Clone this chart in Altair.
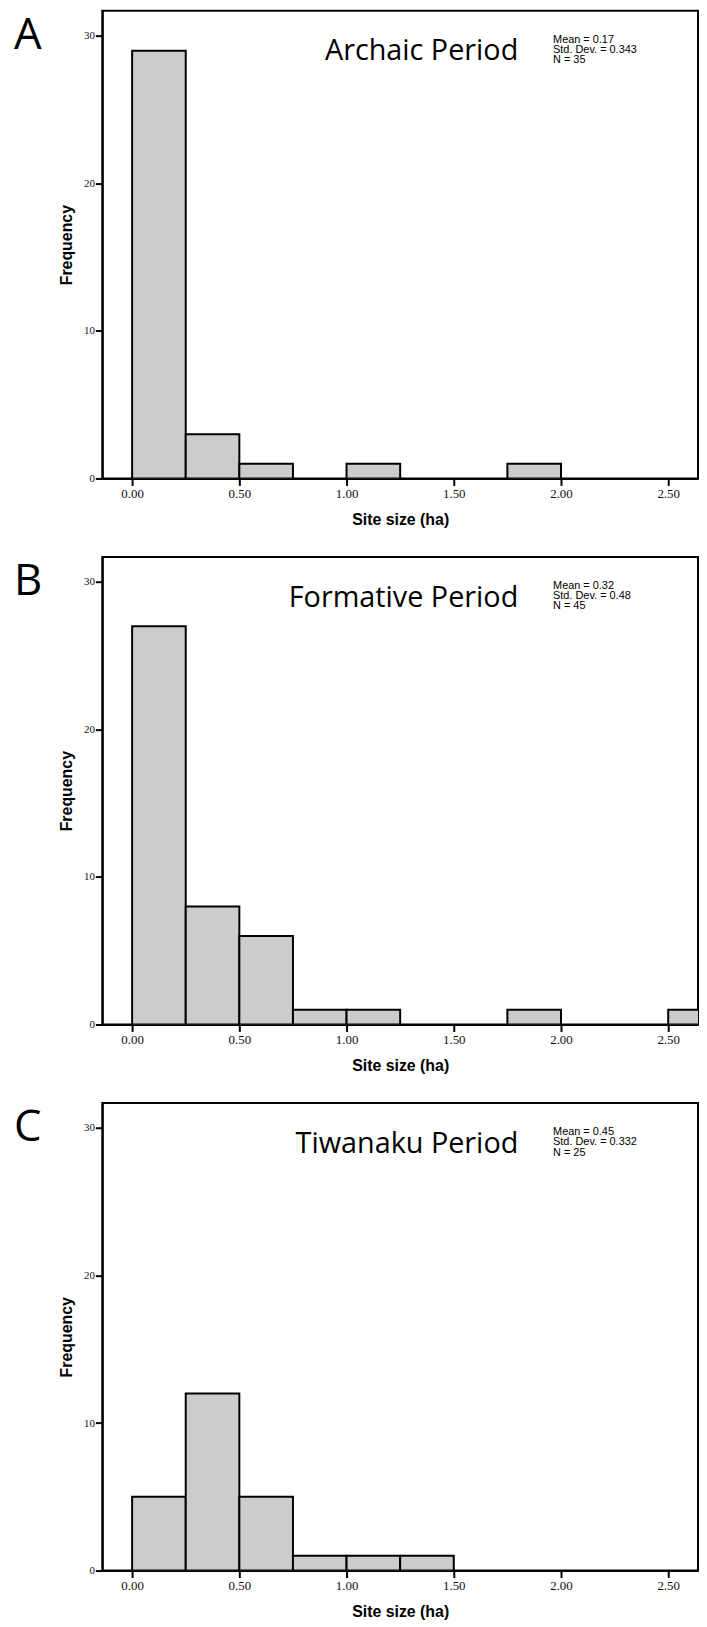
import altair as alt
import pandas as pd

letters = ["A", "B", "C"]
periods = ["Archaic Period", "Formative Period", "Tiwanaku Period"]
means = ["0.17", "0.32", "0.45"]
sds = ["0.343", "0.48", "0.332"]
ns = ["35", "45", "25"]

bin_width = 0.25
archaic_starts = [0.0, 0.25, 0.5, 1.0, 1.75]
archaic_counts = [29, 3, 1, 1, 1]
formative_starts = [0.0, 0.25, 0.5, 0.75, 1.0, 1.75, 2.5]
formative_counts = [27, 8, 6, 1, 1, 1, 1]
tiwanaku_starts = [0.0, 0.25, 0.5, 0.75, 1.0, 1.25]
tiwanaku_counts = [5, 12, 5, 1, 1, 1]

x_ticks = [0, 0.5, 1.0, 1.5, 2.0, 2.5]
y_ticks = [0, 10, 20, 30]
x_domain = [-0.139, 2.639]
y_domain = [0, 31.7]

W, H = 600, 471


def panel(i, starts, counts):
    df = pd.DataFrame({
        "start": starts,
        "end": [s + bin_width for s in starts],
        "count": counts,
    })
    xs = alt.Scale(domain=x_domain, nice=False, zero=False)
    ys = alt.Scale(domain=y_domain, nice=False, zero=True)
    bars = alt.Chart(df).mark_rect(
        fill="#cccccc", stroke="black", strokeWidth=2, clip=True
    ).encode(
        x=alt.X("start:Q", scale=xs, axis=alt.Axis(
            values=x_ticks, format=".2f", title="Site size (ha)",
            labelFont="Liberation Sans Narrow", labelFontSize=13,
            labelPadding=2, titlePadding=11, labelColor="#111",
        )),
        x2="end:Q",
        y=alt.Y("count:Q", scale=ys, axis=alt.Axis(
            values=y_ticks, title="Frequency", labelFontSize=11,
            labelFont="Liberation Sans Narrow",
            labelPadding=1, titlePadding=9, labelColor="#111",
        )),
        y2=alt.datum(0),
    )
    one = pd.DataFrame({"k": [0]})
    letter = alt.Chart(one).mark_text(
        font="Open Sans", fontSize=44, align="left", baseline="alphabetic", color="black"
    ).encode(x=alt.value(-89), y=alt.value(38), text=alt.value(letters[i]))
    title = alt.Chart(one).mark_text(
        font="Open Sans", fontSize=29, align="right", baseline="alphabetic", color="black"
    ).encode(x=alt.value(419), y=alt.value(50), text=alt.value(periods[i]))
    stats = alt.Chart(one).mark_text(
        font="Liberation Sans", fontSize=11, align="left", baseline="alphabetic",
        color="black", lineHeight=10.5,
    ).encode(
        x=alt.value(454), y=alt.value(32),
        text=alt.value([
            "Mean = " + means[i],
            "Std. Dev. = " + sds[i],
            "N = " + ns[i],
        ]),
    )
    return alt.layer(bars, letter, title, stats).properties(width=W, height=H)


chart = alt.vconcat(
    panel(0, archaic_starts, archaic_counts),
    panel(1, formative_starts, formative_counts),
    panel(2, tiwanaku_starts, tiwanaku_counts),
    spacing=28,
).properties(
    padding={"left": 5, "top": -4, "right": 0, "bottom": 0}
).configure_view(
    stroke="black", strokeWidth=2
).configure_axis(
    grid=False, domain=True, domainColor="black", domainWidth=2,
    ticks=True, tickColor="black", tickWidth=2, tickSize=7,
    labelFont="Liberation Sans", titleFont="Liberation Sans",
    titleFontSize=16, titleFontWeight="bold", titleColor="black",
)

chart.save("out.html", embed_options={"renderer": "svg", "actions": False})
